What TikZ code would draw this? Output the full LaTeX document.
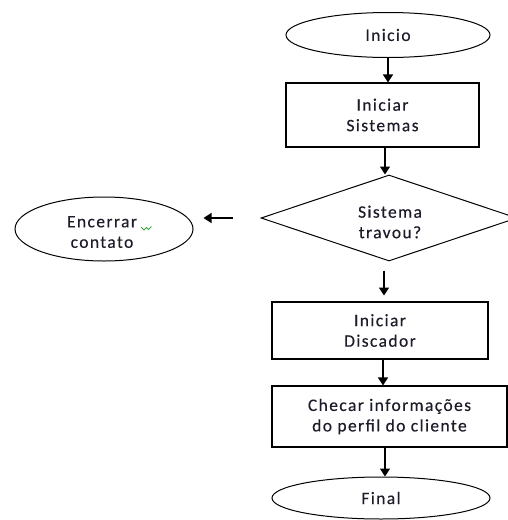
\documentclass[tikz,border=0pt]{standalone}
\usepackage{fontspec}
\setmainfont{Carlito}[LetterSpace=8, FakeBold=0.3]
\usetikzlibrary{shapes.geometric,arrows.meta,calc}
\definecolor{inkcol}{HTML}{1C1C2A}
\definecolor{spellgreen}{HTML}{3CA83C}
\begin{document}
\begin{tikzpicture}[x=1pt,y=-1pt,
  every node/.style={font=\fontsize{17.5}{20.5}\selectfont, text=inkcol, align=center, inner sep=0pt},
  terminal/.style={draw, ellipse, line width=1pt},
  process/.style={draw, rectangle, line width=1.1pt},
  decision/.style={draw, diamond, line width=1pt},
  flow/.style={-{Triangle[width=10pt,length=8pt]}, line width=1.4pt}]
\useasboundingbox (0,0) rectangle (508,520);

% shapes
\node[terminal, minimum width=204, minimum height=45] (inicio) at (388,35) {Inicio};
\node[process, minimum width=193, minimum height=64] (sist) at (382.5,115) {Iniciar\\Sistemas};
\node[decision, minimum width=256, minimum height=86] (trav) at (389,218) {};
\node at (390,222) {Sistema\\travou?};
\node[terminal, minimum width=178, minimum height=64] (enc) at (104,229) {};
\node at (102,232) {Encerrar\\contato};
\node[process, minimum width=216, minimum height=57] (disc) at (380,330.5) {Iniciar\\Discador};
\node[process, minimum width=235, minimum height=61] (chec) at (389.5,416.5) {Checar informações\\do perfil do cliente};
\node[terminal, minimum width=218, minimum height=42] (final) at (381,498) {Final};

% free ends of the connectors that stop short of a shape
\coordinate (a2s) at ($(sist.south)+(2.5,0)$);
\coordinate (a3s) at ($(trav.south)+(-5,9)$);
\coordinate (a3e) at ($(trav.south)+(-5,34)$);
\coordinate (a4s) at ($(trav.west)+(-28,0)$);
\coordinate (a4e) at ($(trav.west)+(-57,0)$);
\coordinate (a5s) at ($(disc.south)+(3,0)$);
\coordinate (a6s) at ($(chec.south)+(-4.5,0)$);

% connectors
\draw[flow] (inicio.south) -- (inicio.south |- sist.north);
\draw[flow] (a2s) -- (a2s |- trav.north);
\draw[flow] (a3s) -- (a3e);
\draw[flow] (a4s) -- (a4e);
\draw[flow] (a5s) -- (a5s |- chec.north);
\draw[flow] (a6s) -- (a6s |- final.north);

% spelling mark under the word
\draw[spellgreen, line width=0.8pt] (141,227) -- (144,230) -- (146.5,227.5) -- (148.5,229.5) -- (151.5,226.5);
\end{tikzpicture}
\end{document}
